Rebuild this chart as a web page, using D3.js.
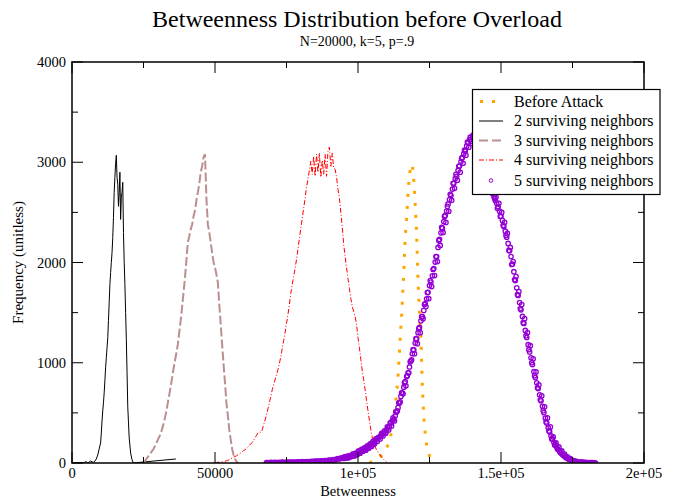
<!DOCTYPE html>
<html><head><meta charset="utf-8">
<script src="https://cdn.jsdelivr.net/npm/d3@7/dist/d3.min.js"></script>
<style>
body{margin:0;background:#fff;}
svg{display:block;font-family:"Liberation Serif","DejaVu Serif",serif;}
</style></head>
<body><svg id="c" width="678" height="497"></svg>
<script>
// ---------- data ----------
const title = "Betweenness Distribution before Overload";
const subtitle = "N=20000, k=5, p=.9";
const xLabel = "Betweenness";
const yLabel = "Frequency (unitless)";
const xTicks = [0, 50000, 100000, 150000, 200000];
const xTickLabels = ["0", "50000", "1e+05", "1.5e+05", "2e+05"];
const yTicks = [0, 1000, 2000, 3000, 4000];
const seriesNames = ["Before Attack", "2 surviving neighbors", "3 surviving neighbors", "4 surviving neighbors", "5 surviving neighbors"];

// Before Attack: bins of 500 starting at 104000
const beforeStart = 104000, beforeStep = 500;
const beforeVals = [0,10,15,20,30,40,50,60,70,85,100,120,150,180,210,280,370,470,570,690,
  870,1110,1360,1610,1900,2250,2440,2700,2880,2960,2980,2820,2580,2280,1800,1500,1250,760,460,300,
  180,120,70,40,0];

// 2 surviving neighbors: [betweenness, frequency]
const n2 = [[0,0],[2000,5],[4000,0],[5000,15],[5500,0],[6500,20],[7500,5],[8000,20],[8500,40],[9000,80],
  [9500,140],[10000,200],[10250,300],[10500,420],[10750,520],[11000,600],[11250,700],[11500,820],[11750,950],[12000,1050],
  [12250,1150],[12500,1250],[12750,1420],[13000,1600],[13250,1780],[13500,1900],[13750,2000],[14000,2100],[14250,2250],[14500,2450],
  [14750,2700],[15000,2850],[15250,2990],[15500,3070],[15750,2850],[16000,2780],[16250,2560],[16500,2700],[16750,2900],[17000,2430],
  [17250,2650],[17500,2700],[17750,2800],[18000,2300],[18250,2000],[18500,1780],[18750,1500],[19000,1230],[19250,900],[19500,560],
  [19750,400],[20000,250],[20500,100],[21000,30],[21500,0],[25000,10],[36300,40]];

// 3 surviving neighbors: bins of 500 starting at 25000
const n3Start = 25000, n3Step = 500;
const n3Vals = [0,20,40,60,80,100,120,140,170,200,
  230,260,290,340,390,450,520,600,680,760,
  850,940,1020,1100,1180,1300,1420,1560,1700,1850,
  2020,2200,2260,2330,2380,2460,2520,2620,2700,2780,
  2900,2960,3050,3080,2640,2380,2300,2200,2100,2000,
  1950,1880,1800,1580,1380,1180,980,800,600,470,
  330,230,140,80,40,15,0];

// 4 surviving neighbors: bins of 500 starting at 50000
const n4Start = 50000, n4Step = 500;
const n4Vals = [0,5,8,6,10,12,15,18,22,25,
  35,42,50,58,65,72,82,90,100,112,
  125,132,145,160,175,190,205,225,250,275,
  300,310,305,330,380,430,480,540,600,660,
  730,780,830,880,930,990,1060,1140,1220,1300,
  1390,1480,1580,1690,1780,1860,1940,2030,2130,2240,
  2340,2440,2540,2640,2750,2830,2920,3010,2880,3060,
  2860,3080,2900,3090,2850,3020,2880,3080,2860,3110,
  3150,2960,3090,2940,2930,2850,2730,2640,2500,2350,
  2180,2060,1950,1840,1740,1640,1560,1510,1460,1380,
  1250,1150,1030,920,830,730,620,520,420,330,
  250,200,160,130,110,90,70,50,35,20,
  10];

// 5 surviving neighbors: bins of 500 starting at 68000
const n5Start = 68000, n5Step = 500;
const n5Vals = [3,5,2,6,4,3,6,5,4,7,
  5,8,6,5,9,6,8,7,10,6,
  9,7,11,8,10,13,9,12,14,11,
  15,13,16,14,18,17,20,16,21,19,
  22,25,20,27,28,24,31,35,30,38,
  44,40,48,52,46,58,55,63,60,68,
  78,72,90,86,110,104,118,126,138,132,
  158,150,176,170,198,192,220,236,248,262,
  270,288,302,296,330,352,368,398,424,436,
  470,508,552,598,664,700,756,812,862,900,
  958,1020,1090,1128,1196,1240,1300,1352,1418,1460,
  1522,1590,1638,1702,1770,1804,1868,1940,2004,2060,
  2150,2230,2296,2340,2408,2470,2512,2584,2628,2668,
  2732,2790,2838,2860,2918,2962,3004,3048,3086,3110,
  3160,3196,3226,3210,3254,3228,3238,3212,3184,3142,
  3098,3060,2996,2950,2902,2840,2784,2742,2688,2660,
  2618,2592,2556,2512,2462,2420,2358,2312,2252,2190,
  2118,2060,1984,1908,1820,1748,1672,1600,1528,1462,
  1392,1322,1252,1180,1108,1050,982,912,852,800,
  742,680,620,566,502,448,398,352,312,270,
  238,206,180,156,134,118,100,86,72,60,
  50,42,35,30,25,21,18,14,12,10,
  9,8,7,6,5,4,4,3,3,2,
  2];
// 5 surviving neighbors: in-between bins, 500 apart starting at 95250
const n5MidStart = 95250, n5MidStep = 500;
const n5MidVals = [62,48,70,52,75,64,92,70,100,84,
  122,98,135,118,150,128,170,148,190,165,
  215,190,240,215,255,240,295,270,320,300,
  360,330,400,370,450,420,510,520,600,610,
  700,690,800,770,870,900,1010,1030,1130,1090,
  1240,1190,1340,1300,1460,1440,1580,1560,1700,1640,
  1820,1760,1930,1870,2060,2010,2220,2170,2350,2300,
  2460,2400,2560,2510,2680,2620,2790,2740,2880,2820,
  2960,2900,3040,2990,3120,3070,3200,3150,3250,3190,
  3270,3200,3260,3190,3210,3120,3130,3030,3020,2920,
  2930,2820,2840,2700,2740,2640,2650,2540,2590,2460,
  2500,2370,2400,2270,2290,2120,2150,1980,2010,1830,
  1860,1680,1710,1540,1580,1400,1440,1270,1300,1130,
  1170,1000,1040,870,910,750,780,630,670,520,
  560,410,450,320,360,240,260,180,200,140,
  160,105,120,80,90,55,62,38,44,28];

// ---------- chart ----------
const binned = (start, step, vals) => vals.map((v, i) => [start + i * step, v]);
const beforeData = binned(beforeStart, beforeStep, beforeVals);
const n3Data = binned(n3Start, n3Step, n3Vals);
const n4Data = binned(n4Start, n4Step, n4Vals);
const n5Data = binned(n5Start, n5Step, n5Vals).concat(binned(n5MidStart, n5MidStep, n5MidVals));

const svg = d3.select("#c");
const L = 72, R = 644, T = 62, B = 463;
const x = d3.scaleLinear().domain([0, 200000]).range([L, R]);
const y = d3.scaleLinear().domain([0, 4000]).range([B, T]);

svg.append("text").attr("x", 357).attr("y", 27).attr("text-anchor", "middle")
  .attr("font-size", 24).text(title);
svg.append("text").attr("x", 357).attr("y", 45.5).attr("text-anchor", "middle")
  .attr("font-size", 14).text(subtitle);

svg.append("defs").append("clipPath").attr("id", "clip")
  .append("rect").attr("x", L).attr("y", T).attr("width", R - L).attr("height", B - T);
const g = svg.append("g").attr("clip-path", "url(#clip)");

const line = d3.line().x(d => x(d[0])).y(d => y(d[1]));

g.append("path").datum(beforeData).attr("d", line).attr("fill", "none")
  .attr("stroke", "#FFA500").attr("stroke-width", 3).attr("stroke-dasharray", "3 9");
g.append("path").datum(n2).attr("d", line).attr("fill", "none")
  .attr("stroke", "#000").attr("stroke-width", 1);
g.append("path").datum(n3Data).attr("d", line).attr("fill", "none")
  .attr("stroke", "#BC8F8F").attr("stroke-width", 2).attr("stroke-dasharray", "9 3");
g.append("path").datum(n4Data).attr("d", line).attr("fill", "none")
  .attr("stroke", "#FF0000").attr("stroke-width", 1).attr("stroke-dasharray", "5 2 1 2");
g.selectAll("circle.p5").data(n5Data).enter().append("circle").attr("class", "p5")
  .attr("cx", d => x(d[0])).attr("cy", d => y(d[1])).attr("r", 2.2)
  .attr("fill", "none").attr("stroke", "#9400D3").attr("stroke-width", 1.3);

// frame
svg.append("rect").attr("x", L).attr("y", T).attr("width", R - L).attr("height", B - T)
  .attr("fill", "none").attr("stroke", "#000").attr("stroke-width", 1.5);

// ticks (inward, all four sides)
const xMinor = d3.range(0, 200001, 25000);
const yMinor = d3.range(0, 4001, 500);
const tk = svg.append("g").attr("stroke", "#000").attr("stroke-width", 1);
xMinor.forEach(v => {
  const len = v % 50000 === 0 ? 11 : 6;
  tk.append("line").attr("x1", x(v)).attr("x2", x(v)).attr("y1", B).attr("y2", B - len);
  tk.append("line").attr("x1", x(v)).attr("x2", x(v)).attr("y1", T).attr("y2", T + len);
});
yMinor.forEach(v => {
  const len = v % 1000 === 0 ? 11 : 6;
  tk.append("line").attr("x1", L).attr("x2", L + len).attr("y1", y(v)).attr("y2", y(v));
  tk.append("line").attr("x1", R).attr("x2", R - len).attr("y1", y(v)).attr("y2", y(v));
});

xTicks.forEach((v, i) => {
  svg.append("text").attr("x", x(v)).attr("y", 478).attr("text-anchor", "middle")
    .attr("font-size", 14.5).text(xTickLabels[i]);
});
yTicks.forEach(v => {
  svg.append("text").attr("x", L - 6).attr("y", y(v) + 5).attr("text-anchor", "end")
    .attr("font-size", 14.5).text(d3.format("d")(v));
});
svg.append("text").attr("x", (L + R) / 2).attr("y", 495.5).attr("text-anchor", "middle")
  .attr("font-size", 14.5).text(xLabel);
svg.append("text").attr("transform", `translate(23,${(T + B) / 2}) rotate(-90)`)
  .attr("text-anchor", "middle").attr("font-size", 15).text(yLabel);

// legend
const lg = svg.append("g");
lg.append("rect").attr("x", 472.5).attr("y", 89.5).attr("width", 187.5).attr("height", 105)
  .attr("fill", "#fff").attr("stroke", "#000").attr("stroke-width", 1.2);
const rowY = [101.5, 121, 140.5, 160, 180.5];
seriesNames.forEach((name, i) => {
  const yy = rowY[i];
  if (i === 0) {
    lg.append("line").attr("x1", 480).attr("x2", 504).attr("y1", yy).attr("y2", yy)
      .attr("stroke", "#FFA500").attr("stroke-width", 3).attr("stroke-dasharray", "3 9");
  } else if (i === 1) {
    lg.append("line").attr("x1", 479).attr("x2", 503).attr("y1", yy).attr("y2", yy)
      .attr("stroke", "#000").attr("stroke-width", 1);
  } else if (i === 2) {
    lg.append("line").attr("x1", 479).attr("x2", 503).attr("y1", yy).attr("y2", yy)
      .attr("stroke", "#BC8F8F").attr("stroke-width", 2).attr("stroke-dasharray", "9 4");
  } else if (i === 3) {
    lg.append("line").attr("x1", 479).attr("x2", 503).attr("y1", yy).attr("y2", yy)
      .attr("stroke", "#FF0000").attr("stroke-width", 1).attr("stroke-dasharray", "5 2 1 2");
  } else {
    lg.append("circle").attr("cx", 491).attr("cy", yy).attr("r", 1.8)
      .attr("fill", "none").attr("stroke", "#9400D3").attr("stroke-width", 1);
  }
  lg.append("text").attr("x", 514).attr("y", yy + 5).attr("font-size", 16).text(name);
});
</script></body></html>
